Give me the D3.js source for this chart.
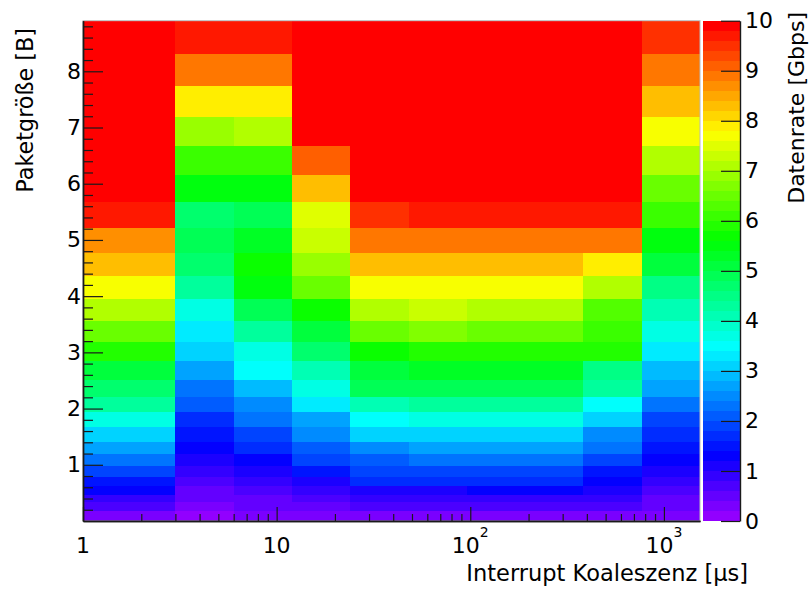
<!DOCTYPE html>
<html>
<head>
<meta charset="utf-8">
<script src="https://cdn.jsdelivr.net/npm/d3@7"></script>
<style>
  body { margin: 0; background: #fff; }
  svg { display: block; }
  text { font-family: "DejaVu Sans", sans-serif; fill: #000; }
</style>
</head>
<body>
<svg id="chart" width="810" height="589"></svg>
<script>
// Interrupt coalescing bin edges [µs]
const coalEdges = [1, 3, 6, 12, 24, 48, 96, 192, 384, 768, 1536];
// Packet size bin edges
const sizeEdges = [0, 0.17, 0.33, 0.46, 0.62, 0.78, 0.98, 1.19, 1.41, 1.67, 1.94,
  2.21, 2.51, 2.85, 3.19, 3.56, 3.95, 4.36, 4.77, 5.21, 5.68, 6.16, 6.67, 7.19,
  7.74, 8.31, 8.90];

// Data rate [Gbps] per coalescing bin, smallest packet size first
const rate1    = [0.3, 0.7, 0.9, 1.3, 1.5, 1.9, 2.3, 2.7, 3.1, 3.7, 4.3, 4.7, 5.1, 5.9, 6.5, 7.1, 7.7, 8.3, 8.7, 9.7, 9.9, 9.9, 9.9, 9.9, 9.9, 9.9];
const rate3    = [0.1, 0.3, 0.5, 0.5, 0.7, 0.9, 1.1, 1.3, 1.5, 1.7, 2.1, 2.3, 2.7, 3.1, 3.3, 3.7, 4.3, 4.7, 4.9, 4.7, 5.5, 6.1, 6.9, 7.9, 8.9, 9.7];
const rate6    = [0.3, 0.5, 0.5, 0.7, 0.9, 1.1, 1.3, 1.7, 1.9, 2.3, 2.5, 2.9, 3.5, 3.7, 4.3, 4.9, 5.5, 5.7, 5.3, 4.9, 5.5, 6.1, 7.1, 7.9, 8.9, 9.7];
const rate12   = [0.3, 0.5, 0.7, 0.9, 1.1, 1.5, 1.9, 2.1, 2.5, 2.7, 3.3, 3.7, 4.1, 4.7, 5.1, 5.7, 6.5, 6.9, 7.3, 7.5, 8.3, 9.1, 9.9, 9.9, 9.9, 9.9];
const rate24   = [0.3, 0.7, 0.9, 1.1, 1.7, 1.9, 2.1, 2.5, 3.1, 3.5, 4.1, 4.9, 5.1, 5.7, 6.5, 7.1, 7.7, 8.3, 8.9, 9.5, 9.9, 9.9, 9.9, 9.9, 9.9, 9.9];
const rate48   = [0.3, 0.7, 0.9, 1.1, 1.7, 1.9, 2.3, 2.7, 3.1, 3.7, 4.3, 4.9, 5.3, 5.9, 6.7, 7.3, 7.7, 8.3, 8.9, 9.7, 9.9, 9.9, 9.9, 9.9, 9.9, 9.9];
const rate96   = [0.3, 0.7, 0.9, 1.3, 1.7, 1.9, 2.3, 2.7, 3.1, 3.7, 4.3, 4.9, 5.3, 5.9, 6.5, 7.1, 7.7, 8.3, 8.9, 9.7, 9.9, 9.9, 9.9, 9.9, 9.9, 9.9];
const rate192  = [0.3, 0.7, 0.9, 1.3, 1.7, 1.9, 2.3, 2.7, 3.1, 3.7, 4.3, 4.9, 5.3, 5.9, 6.5, 7.1, 7.7, 8.3, 8.9, 9.7, 9.9, 9.9, 9.9, 9.9, 9.9, 9.9];
const rate384  = [0.3, 0.7, 0.9, 1.1, 1.3, 1.5, 1.9, 2.3, 2.5, 3.1, 3.5, 4.3, 4.5, 5.9, 6.1, 6.3, 7.1, 7.9, 8.9, 9.7, 9.9, 9.9, 9.9, 9.9, 9.9, 9.9];
const rate768  = [0.3, 0.5, 0.5, 0.7, 0.9, 1.1, 1.3, 1.5, 1.7, 1.9, 2.3, 2.7, 2.9, 3.3, 3.7, 4.1, 4.5, 5.1, 5.5, 6.1, 6.5, 7.1, 7.7, 8.3, 8.9, 9.5];
const rates = [rate1, rate3, rate6, rate12, rate24, rate48, rate96, rate192, rate384, rate768];

// Axis ticks
const xMajorTicks = [1, 10, 100, 1000];
const xTickLabels = [["1", null], ["10", null], ["10", "2"], ["10", "3"]];
const yMajorTicks = [1, 2, 3, 4, 5, 6, 7, 8];
const zTicks = [0, 1, 2, 3, 4, 5, 6, 7, 8, 9, 10];
const zMax = 10;
const nColors = 50;

const svg = d3.select("#chart");

const plot = { left: 83, right: 700, top: 20.7, bottom: 521 };
const bar = { left: 703, right: 740 };

const x = d3.scaleLog().domain([1, 1536]).range([plot.left, plot.right]);
const y = d3.scaleLinear().domain([0, 8.9]).range([plot.bottom, plot.top]);
const z = d3.scaleLinear().domain([0, zMax]).range([plot.bottom, plot.top]);

// Rainbow palette: 50 fully saturated hues from violet to red
const palette = d3.range(nColors).map(i => d3.hsl(280 - (i + 1) * (280 / nColors), 1, 0.5).formatHex());
const colorOf = v => palette[Math.max(0, Math.min(nColors - 1, Math.floor(v / zMax * nColors)))];

// Heat map cells
const cells = [];
rates.forEach((col, c) => col.forEach((v, r) => cells.push({ c, r, v })));

svg.append("g")
  .attr("shape-rendering", "crispEdges")
  .selectAll("rect")
  .data(cells)
  .join("rect")
  .attr("x", d => x(coalEdges[d.c]))
  .attr("width", d => x(coalEdges[d.c + 1]) - x(coalEdges[d.c]))
  .attr("y", d => y(sizeEdges[d.r + 1]))
  .attr("height", d => y(sizeEdges[d.r]) - y(sizeEdges[d.r + 1]))
  .attr("fill", d => colorOf(d.v));

// Frame
svg.append("rect")
  .attr("x", plot.left).attr("y", plot.top)
  .attr("width", plot.right - plot.left).attr("height", plot.bottom - plot.top)
  .attr("fill", "none").attr("stroke", "#b8b8b8").attr("stroke-width", 1);

// X axis: minor and major ticks pointing into the plot
const xMinor = [];
for (let dec = 1; dec <= 1000; dec *= 10)
  for (let k = 2; k <= 9; k++) if (k * dec < 1536) xMinor.push(k * dec);

const styleAxis = g => {
  g.selectAll("path.domain").attr("stroke", "#1a1a1a").attr("stroke-width", 1.4);
  g.selectAll(".tick line").attr("stroke", "#1a1a1a").attr("stroke-width", 1.2);
};

svg.append("g")
  .attr("transform", `translate(0,${plot.bottom})`)
  .call(d3.axisBottom(x).tickValues(xMinor).tickSize(-7).tickSizeOuter(0).tickFormat(""))
  .call(styleAxis);
svg.append("g")
  .attr("transform", `translate(0,${plot.bottom})`)
  .call(d3.axisBottom(x).tickValues(xMajorTicks).tickSize(-14).tickSizeOuter(0).tickFormat(""))
  .call(styleAxis);

// X tick labels with exponent notation
const xl = svg.append("g").selectAll("text")
  .data(xMajorTicks)
  .join("text")
  .attr("x", d => x(d))
  .attr("y", 553)
  .attr("text-anchor", "middle")
  .attr("font-size", 22);
xl.append("tspan").text((d, i) => xTickLabels[i][0]);
xl.filter((d, i) => xTickLabels[i][1] !== null)
  .append("tspan")
  .attr("font-size", 14)
  .attr("dy", -16)
  .text(d => xTickLabels[xMajorTicks.indexOf(d)][1]);

// Y axis
const yMinor = d3.range(1, 45).map(i => +(i * 0.2).toFixed(1)).filter(v => Math.abs(v - Math.round(v)) > 1e-6);
svg.append("g")
  .attr("transform", `translate(${plot.left},0)`)
  .call(d3.axisLeft(y).tickValues(yMinor).tickSize(-10).tickSizeOuter(0).tickFormat(""))
  .call(styleAxis);
svg.append("g")
  .attr("transform", `translate(${plot.left},0)`)
  .call(d3.axisLeft(y).tickValues(yMajorTicks).tickSize(-20).tickSizeOuter(0).tickPadding(2).tickFormat(d3.format("d")))
  .call(styleAxis)
  .call(g => g.selectAll("text").attr("font-size", 22).attr("font-family", "DejaVu Sans").attr("fill", "#000"));

// Colour scale
const bands = d3.range(nColors);
svg.append("g")
  .attr("shape-rendering", "crispEdges")
  .selectAll("rect")
  .data(bands)
  .join("rect")
  .attr("x", bar.left)
  .attr("width", bar.right - bar.left)
  .attr("y", i => z((i + 1) * zMax / nColors))
  .attr("height", i => z(i * zMax / nColors) - z((i + 1) * zMax / nColors))
  .attr("fill", i => palette[i]);

svg.append("g")
  .attr("transform", `translate(${bar.right},0)`)
  .call(d3.axisRight(z).tickValues(zTicks).tickSize(-19).tickSizeOuter(0).tickPadding(5).tickFormat(d3.format("d")))
  .call(styleAxis)
  .call(g => g.selectAll("text").attr("font-size", 22).attr("font-family", "DejaVu Sans").attr("fill", "#000"));

// Axis titles
svg.append("text")
  .attr("x", 748).attr("y", 581)
  .attr("text-anchor", "end")
  .attr("font-size", 22.5)
  .text("Interrupt Koaleszenz [µs]");

svg.append("text")
  .attr("transform", "translate(33,28) rotate(-90)")
  .attr("text-anchor", "end")
  .attr("font-size", 22.3)
  .text("Paketgröße [B]");

svg.append("text")
  .attr("transform", "translate(804,12) rotate(-90)")
  .attr("text-anchor", "end")
  .attr("font-size", 22)
  .text("Datenrate [Gbps]");
</script>
</body>
</html>
